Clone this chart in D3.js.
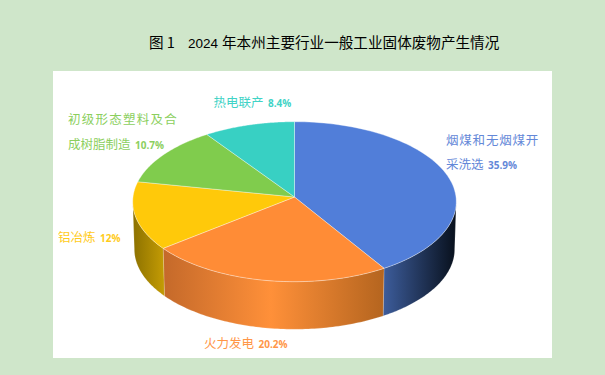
<!DOCTYPE html>
<html>
<head>
<meta charset="utf-8">
<script src="https://cdn.jsdelivr.net/npm/d3@7/dist/d3.min.js"></script>
<style>
html, body { margin: 0; padding: 0; background: #cfe6ca; }
svg { display: block; }
</style>
</head>
<body>
<div id="pie_block"></div>
<script>
var categories = ["烟煤和无烟煤开采洗选", "火力发电", "铝冶炼", "初级形态塑料及合成树脂制造", "热电联产"];
var shares = [35.9, 20.2, 12, 10.7, 8.4];
var share_labels = ["35.9%", "20.2%", "12%", "10.7%", "8.4%"];
var top_colors = ["#517ed9", "#ff8c36", "#ffc90a", "#80cc4d", "#38d0c3"];
var label_colors = ["#6488d8", "#ff9648", "#ffcb1a", "#8ccf5e", "#3fd3c6"];

var width = 605, height = 375;
var cjk = "'Noto Sans CJK SC', sans-serif";

var svg = d3.select("#pie_block")
    .append("svg")
    .attr("width", width)
    .attr("height", height);

svg.append("rect")
    .attr("x", 53).attr("y", 71)
    .attr("width", 499).attr("height", 287)
    .attr("fill", "#fff");

var title = svg.append("text")
    .attr("y", 48)
    .attr("font-family", cjk)
    .attr("font-size", 14.6)
    .attr("fill", "#000");
title.append("tspan").attr("x", 149).text("图 1");
title.append("tspan").attr("x", 188)
    .attr("font-family", "'Liberation Sans', sans-serif")
    .attr("font-size", 13.5)
    .text("2024");
title.append("tspan").attr("x", 222).text("年本州主要行业一般工业固体废物产生情况");

// the disc is tilted with some perspective, so the centre sits above the
// middle of the ellipse and the front half looks bigger than the back
var apex_x = 294.5, apex_y = 197, rad_x = 161.5, rad_y = 79.7, persp = 0.0587, depth = 47.6;

var project = function(a) {
    var w = 1 + persp * Math.cos(a);
    return [apex_x + rad_x * Math.sin(a) / w, apex_y - rad_y * Math.cos(a) / w];
};
var project_low = function(a) {
    var p = project(a);
    return [apex_x + (p[0] - apex_x) * 0.99, p[1] + depth];
};

var pie = d3.pie().sort(null);
var slices = pie(shares);
var line = d3.line();

var rim = function(a0, a1, fn) {
    var n = 80;
    return d3.range(n + 1).map(function(k) { return fn(a0 + (a1 - a0) * k / n); });
};

// wall gradients run left to right across the chart
var defs = svg.append("defs");
var wall_stops = [
    [[0, "#3d5d9c"], [1, "#08101c"]],
    [[0, "#c4692a"], [0.49, "#ff9039"], [1, "#b5651f"]],
    [[0, "#8a7000"], [1, "#c29a04"]]
];
var wall_x = [[383, 456], [163, 383], [132, 163]];
wall_stops.forEach(function(stops, i) {
    var g = defs.append("linearGradient")
        .attr("id", "wall" + i)
        .attr("gradientUnits", "userSpaceOnUse")
        .attr("x1", wall_x[i][0]).attr("x2", wall_x[i][1])
        .attr("y1", 0).attr("y2", 0);
    stops.forEach(function(s) {
        g.append("stop").attr("offset", s[0]).attr("stop-color", s[1]);
    });
});

// side wall, only between the left and right silhouette points
var edge_a = Math.acos(-persp);
var wall_path = function(d) {
    var a0 = Math.max(d.startAngle, edge_a);
    var a1 = Math.min(d.endAngle, Math.PI * 2 - edge_a);
    return line(rim(a0, a1, project).concat(rim(a1, a0, project_low))) + "Z";
};

svg.append("g").selectAll("path")
    .data(slices.slice(0, 3))
    .join("path")
    .attr("d", wall_path)
    .attr("fill", function(d, i) { return "url(#wall" + i + ")"; })
    .attr("stroke", "rgba(255,255,255,0.3)")
    .attr("stroke-width", 0.6);

svg.append("g").selectAll("path")
    .data(slices)
    .join("path")
    .attr("d", function(d) {
        return line([[apex_x, apex_y]].concat(rim(d.startAngle, d.endAngle, project))) + "Z";
    })
    .attr("fill", function(d, i) { return top_colors[i]; })
    .attr("stroke", "rgba(255,255,255,0.5)")
    .attr("stroke-width", 0.7);

// labels, some wrap over two lines
var label_lines = [
    [categories[0].slice(0, 7), categories[0].slice(7)],
    [categories[1]],
    [categories[2]],
    [categories[3].slice(0, 8), categories[3].slice(8)],
    [categories[4]]
];
var label_pos = [[446, 144.5, 24.5], [204, 348, 0], [58, 241.5, 0], [68, 123.5, 25], [213.5, 106.5, 0]];
var label_spacing = [0.8, 0, 0, 1.25, 0];

var labels = svg.append("g").selectAll("text")
    .data(label_lines)
    .join("text")
    .attr("font-family", cjk)
    .attr("font-size", 12.5)
    .attr("fill", function(d, i) { return label_colors[i]; });

labels.each(function(lines, i) {
    var t = d3.select(this);
    lines.forEach(function(row, k) {
        var last = k === lines.length - 1;
        t.append("tspan")
            .attr("x", label_pos[i][0])
            .attr("y", label_pos[i][1] + k * label_pos[i][2])
            .attr("letter-spacing", last ? 0 : label_spacing[i])
            .text(row);
        if (last) {
            t.append("tspan")
                .attr("dx", 4.5)
                .attr("font-family", "'Open Sans', sans-serif")
                .attr("font-size", 10)
                .attr("font-weight", 700)
                .text(share_labels[i]);
        }
    });
});
</script>
</body>
</html>
